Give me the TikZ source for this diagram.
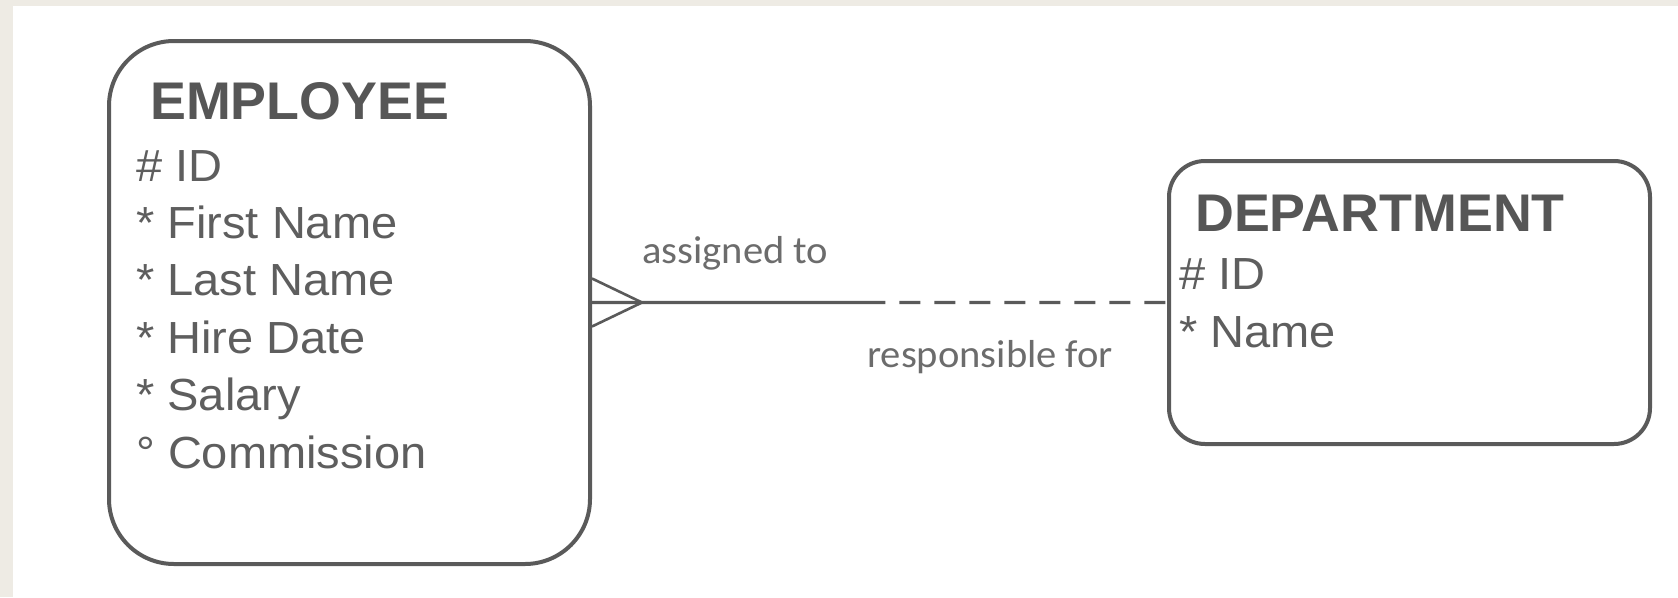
\documentclass[tikz,border=0pt]{standalone}
\usepackage{fontspec}
\setmainfont[FakeStretch=1.015]{Liberation Sans}
\newfontfamily\attrfont[FakeStretch=1.045]{Liberation Sans}
\newfontfamily\relfont[FakeStretch=1.04]{Carlito}
\usetikzlibrary{positioning, calc}
\definecolor{bggray}{HTML}{EEEBE4}
\definecolor{framegray}{HTML}{5A5A5A}
\definecolor{titlegray}{HTML}{565656}
\definecolor{attrgray}{HTML}{5E5E5E}
\definecolor{relgray}{HTML}{6C6C6C}
\tikzstyle{entity} = [draw=framegray,line width=4pt,fill=white,inner sep=0pt]
\tikzstyle{title} = [anchor=base west,inner sep=0pt,text=titlegray,font=\fontsize{53}{60}\selectfont\bfseries]
\tikzstyle{attr} = [anchor=base west,inner sep=0pt,text=attrgray,font=\attrfont\fontsize{45}{54}\selectfont]
\tikzstyle{rel} = [anchor=base west,inner sep=0pt,text=relgray,font=\relfont\fontsize{39}{44}\selectfont]
\tikzstyle{link} = [draw=framegray,line width=3.2pt]

\begin{document}
\begin{tikzpicture}[x=1pt,y=-1pt]
        \fill[bggray] (0,0) rectangle (1678,597);
        \fill[white] (13,6) rectangle (1678,597);
        \useasboundingbox (0,0) rectangle (1678,597);

        \node (emp) [entity, rounded corners=65pt, minimum width=481pt, minimum height=523pt] at (349.5,302.5) {};
        \node (dept) [entity, rounded corners=36pt, minimum width=481pt, minimum height=283pt, right=575pt of emp] {};

        \node (emp-title) [title] at (150,119) {EMPLOYEE};
        \foreach \txt [count=\i] in {\# ID, * First Name, * Last Name, * Hire Date, * Salary, ° Commission}
            \node (emp-a\i) [attr] at (136,{181+57.4*(\i-1)}) {\txt};

        \node (dept-title) [title] at (1195,231) {DEPARTMENT};
        \node (dept-a1) [attr] at (1179,289) {\# ID};
        \node (dept-a2) [attr] at (1179,347) {* Name};

        % relationship: many employees to one department
        \coordinate (split) at ($(emp.east)!0.51!(dept.west)$);
        \coordinate (foot) at ([xshift=50pt]emp.east);
        \draw[link] (emp.east) -- (split);
        \draw[link, dash pattern=on 21pt off 14pt, dash phase=21pt] (split) -- (dept.west);
        \draw[link, line width=2.6pt] ([yshift=24pt]emp.east) -- (foot) -- ([yshift=-24pt]emp.east);

        \node (assigned) [rel] at (642,263) {assigned to};
        \node (responsible) [rel] at (867,367) {responsible for};
    \end{tikzpicture}
\end{document}
